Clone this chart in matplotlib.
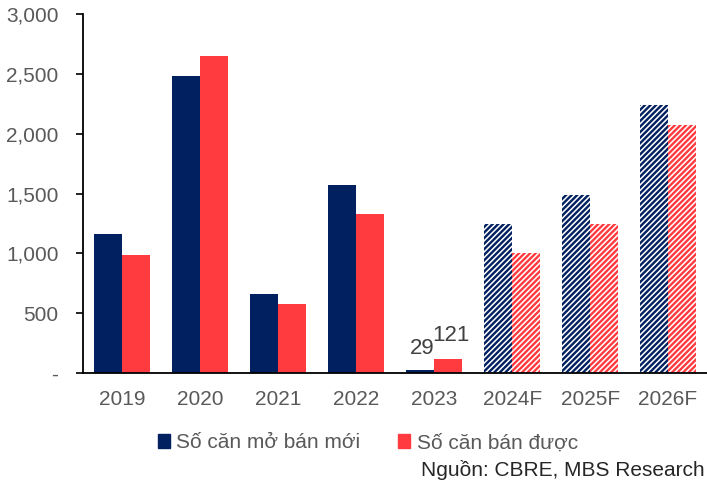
import matplotlib.pyplot as plt
import numpy as np
from matplotlib.patches import Patch

plt.rcParams['font.family'] = ['Liberation Sans', 'DejaVu Sans']
plt.rcParams['hatch.linewidth'] = 1.7

years = ['2019', '2020', '2021', '2022', '2023', '2024F', '2025F', '2026F']
mo_ban = [1160, 2480, 660, 1570, 29, 1250, 1490, 2240]
ban_duoc = [990, 2650, 580, 1330, 121, 1000, 1250, 2070]
forecast = [False, False, False, False, False, True, True, True]

navy = '#002060'
red = '#FF3B3F'
grey = '#595959'
fs = 15

fig = plt.figure(figsize=(7.07, 4.91), dpi=100)
ax = fig.add_axes([0.118, 0.240, 0.882, 0.7315])

x = np.arange(len(years))
w = 0.36
for i in range(len(years)):
    if forecast[i]:
        ax.bar(x[i] - w / 2, mo_ban[i], w, facecolor='white', edgecolor=navy,
               hatch='//////', linewidth=0)
        ax.bar(x[i] + w / 2, ban_duoc[i], w, facecolor='white', edgecolor=red,
               hatch='//////', linewidth=0)
    else:
        ax.bar(x[i] - w / 2, mo_ban[i], w, color=navy)
        ax.bar(x[i] + w / 2, ban_duoc[i], w, color=red)

# data labels for 2023
ax.text(x[4] - w / 2 + 0.02, mo_ban[4] + 90, str(mo_ban[4]), ha='center', va='bottom',
        fontsize=16, color='#404040')
ax.text(x[4] + w / 2 + 0.04, ban_duoc[4] + 110, str(ban_duoc[4]), ha='center', va='bottom',
        fontsize=16, color='#404040')

ax.set_xlim(-0.5, len(years) - 0.5)
ax.set_ylim(0, 3000)
ax.set_yticks(np.arange(0, 3001, 500))
ax.set_yticklabels(['-'] + [f'{v:,}' for v in range(500, 3001, 500)])
ax.set_xticks(x)
ax.set_xticklabels(years)
ax.tick_params(axis='y', length=5, width=1.2, colors='black', labelcolor=grey,
               labelsize=fs, pad=13)
ax.tick_params(axis='x', length=0, labelcolor=grey, labelsize=fs, pad=12)

for s in ['top', 'right']:
    ax.spines[s].set_visible(False)
ax.spines['left'].set_linewidth(1.3)
ax.spines['bottom'].set_linewidth(1.3)

handles = [Patch(color=navy), Patch(color=red)]
fig.legend(handles, ['Số căn mở bán mới', 'Số căn bán được'], loc='center',
           bbox_to_anchor=(0.52, 0.098), ncol=2, frameon=False, fontsize=fs,
           handlelength=0.6, handleheight=0.6, handletextpad=0.3, columnspacing=1.8,
           labelcolor=grey)

fig.text(0.997, 0.042, 'Nguồn: CBRE, MBS Research', ha='right', va='center',
         fontsize=fs, color='#262626')

fig.savefig('out.png', dpi=100)
